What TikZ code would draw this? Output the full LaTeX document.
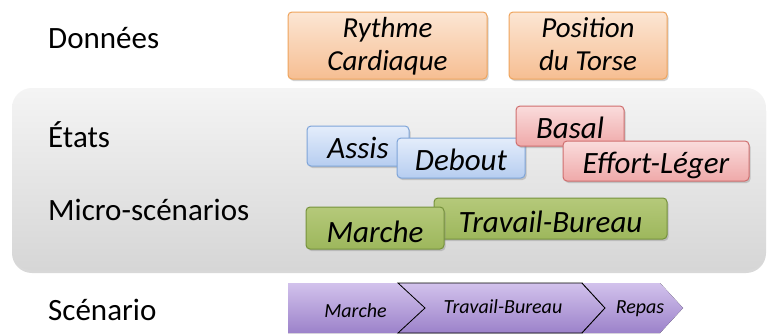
\documentclass[tikz,border=0pt]{standalone}
\usepackage{fontspec}
\setmainfont{Carlito}
\usetikzlibrary{shadows}
\definecolor{panelT}{HTML}{F4F4F4}
\definecolor{panelB}{HTML}{D6D6D6}
\definecolor{orT}{HTML}{FCE6D4}
\definecolor{orB}{HTML}{F6BE92}
\definecolor{orD}{HTML}{EFA45C}
\definecolor{blT}{HTML}{E4EDFB}
\definecolor{blB}{HTML}{B6CDF0}
\definecolor{blD}{HTML}{7EA4D8}
\definecolor{rdT}{HTML}{FADCDC}
\definecolor{rdB}{HTML}{EFA9A9}
\definecolor{rdD}{HTML}{CF6E6E}
\definecolor{grT}{HTML}{B5C97A}
\definecolor{grB}{HTML}{9DB75C}
\definecolor{grD}{HTML}{76923C}
\definecolor{puT}{HTML}{D2C2EC}
\definecolor{puB}{HTML}{9C82CA}
\tikzset{
  x=1pt,y=-1pt,
  lbl/.style={anchor=base west,font=\fontsize{31}{34}\selectfont,inner sep=0pt},
  boxbase/.style={rounded corners=4pt,line width=1pt,align=center,inner sep=0pt,
    drop shadow={opacity=0.35,shadow xshift=1.5pt,shadow yshift=-2pt}},
  obox/.style={boxbase,draw=orD,top color=orT,bottom color=orB,
    font=\itshape\fontsize{29}{33}\selectfont,text height=52pt,text depth=2pt},
  sbox/.style={boxbase,font=\itshape\fontsize{31}{34}\selectfont,text depth=0pt},
  bbox/.style={sbox,draw=blD,top color=blT,bottom color=blB},
  rbox/.style={sbox,draw=rdD,top color=rdT,bottom color=rdB},
  gbox/.style={sbox,draw=grD,top color=grT,bottom color=grB},
  chev/.style={top color=puT,bottom color=puB},
  chevtxt/.style={anchor=base,font=\itshape\fontsize{20}{23}\selectfont,inner sep=0pt},
}
\begin{document}
\begin{tikzpicture}
\useasboundingbox (0,0) rectangle (767,335);
\fill[white] (0,0) rectangle (767,335);
% panel
\node[draw=none,rounded corners=20pt,top color=panelT,bottom color=panelB,
  minimum width=754pt,minimum height=182pt,inner sep=0pt,
  drop shadow={opacity=0.3,shadow xshift=0pt,shadow yshift=-3pt}] (panel) at (389,179) {};
% labels
\node[lbl] (ldon) at (48,48) {Données};
\node[lbl] (lsta) at (48,147) {États};
\node[lbl] (lmic) at (48,220) {Micro-scénarios};
\node[lbl] (lsce) at (48,320) {Scénario};
% data
\node[obox,minimum width=199pt,minimum height=67pt] (rc) at (387.5,45.5) {Rythme\\Cardiaque};
\node[obox,minimum width=158pt,minimum height=67pt] (pt) at (588,45.5) {Position\\du Torse};
% states
\node[bbox,minimum width=102pt,minimum height=40pt,text height=24pt] (assis) at (358,146) {Assis};
\node[bbox,minimum width=128pt,minimum height=40pt,text height=24pt] (debout) at (461,158) {Debout};
\node[rbox,minimum width=108pt,minimum height=40pt,text height=24pt] (basal) at (570,126) {Basal};
\node[rbox,minimum width=186pt,minimum height=40pt,text height=24pt] (effort) at (656,161) {Effort-Léger};
% micro
\node[gbox,minimum width=233pt,minimum height=41pt,text height=27pt] (travail) at (550.5,218.5) {Travail-Bureau};
\node[gbox,minimum width=138pt,minimum height=42pt,text height=28pt] (marche) at (375,228) {Marche};
% scenario chevrons
\fill[chev] (288,283) -- (398,283) -- (425,308) -- (398,333) -- (288,333) -- cycle;
\fill[chev,draw=black,line width=0.8pt] (398,283) -- (582,283) -- (605,308) -- (582,333) -- (398,333) -- (425,308) -- cycle;
\fill[chev] (582,283) -- (660,283) -- (683,308) -- (660,333) -- (582,333) -- (605,308) -- cycle;
\draw[black,line width=0.8pt] (582,283) -- (605,308) -- (582,333);
\node[chevtxt] (sm) at (355.5,317) {Marche};
\node[chevtxt] (st) at (503,313) {Travail-Bureau};
\node[chevtxt] (sr) at (640,313) {Repas};
\end{tikzpicture}
\end{document}
